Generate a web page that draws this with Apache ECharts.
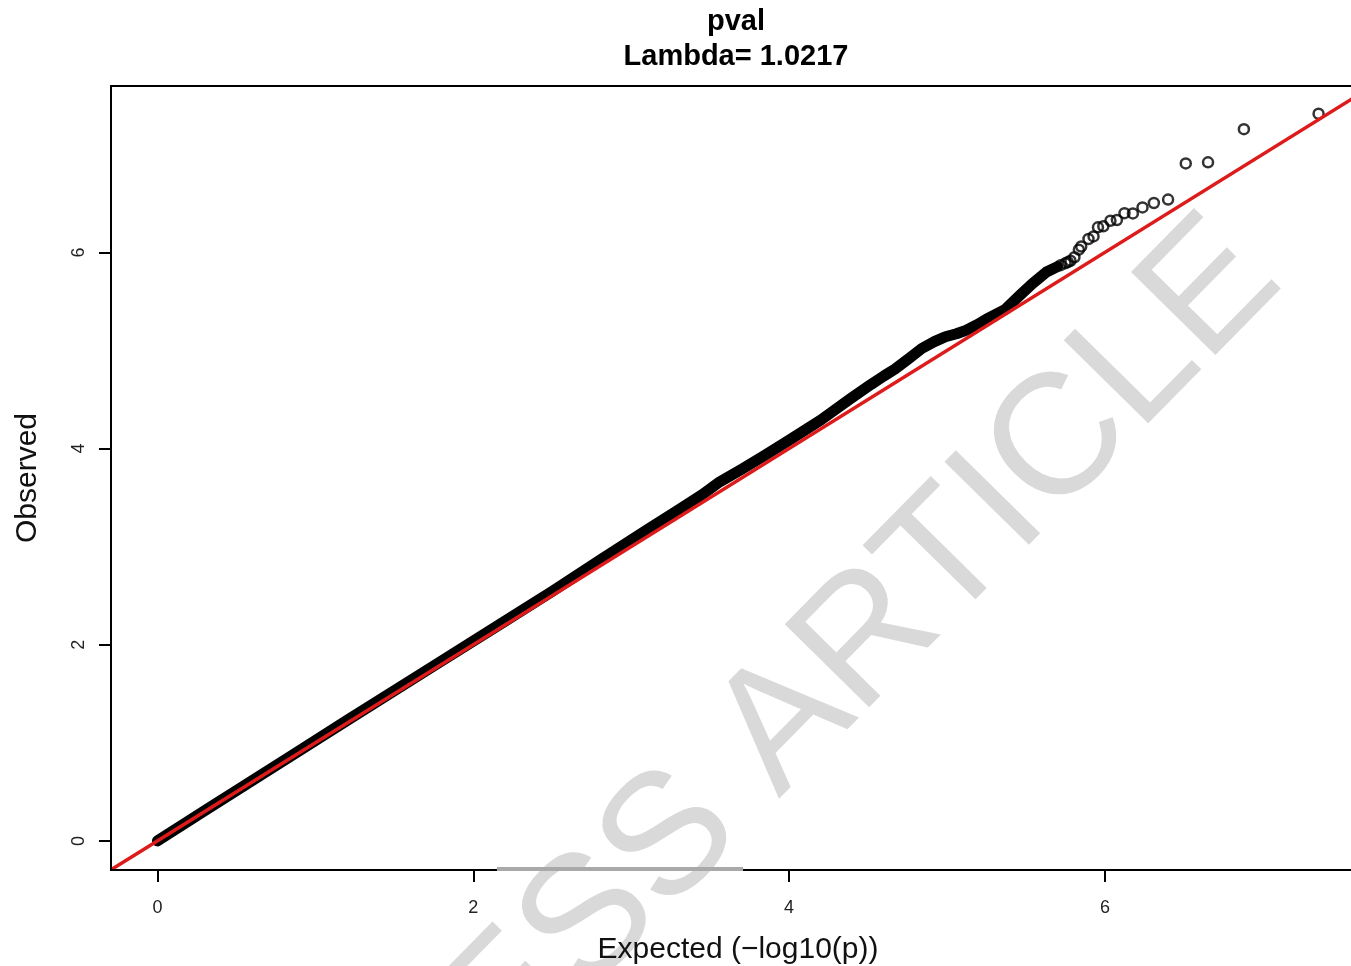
<!DOCTYPE html>
<html>
<head>
<meta charset="utf-8">
<title>QQ plot</title>
<script src="https://cdn.jsdelivr.net/npm/echarts@6/dist/echarts.min.js"></script>
<style>
  html, body { margin: 0; padding: 0; background: #fff; }
  #show_picture { width: 1351px; height: 966px; }
</style>
</head>
<body>
<div id="show_picture"></div>
<script>
// ticks on both axes
const xTicks = [0, 2, 4, 6];
const yTicks = [0, 2, 4, 6];

// dense part of the QQ cloud (read along the band centre)
const bandExpected = [0.00, 0.30, 0.60, 0.86, 1.20, 1.73, 2.20, 2.50, 2.81, 3.10, 3.30, 3.45, 3.56, 3.70, 3.85,
  4.00, 4.20, 4.39, 4.52, 4.60, 4.67, 4.76, 4.84, 4.92, 4.99, 5.06, 5.12, 5.20, 5.25, 5.37, 5.46, 5.54, 5.63, 5.70];
const bandObserved = [0.000, 0.310, 0.615, 0.880, 1.228, 1.765, 2.240, 2.545, 2.870, 3.170, 3.375, 3.530, 3.660, 3.790, 3.935,
  4.085, 4.290, 4.510, 4.655, 4.740, 4.810, 4.920, 5.020, 5.090, 5.140, 5.170, 5.205, 5.270, 5.320, 5.420, 5.560, 5.680, 5.800, 5.855];

// sparse tail, single circles
const tailExpected = [5.72, 5.75, 5.765, 5.782, 5.807, 5.835, 5.85, 5.896, 5.928, 5.956, 5.99, 6.035, 6.076,
  6.124, 6.177, 6.238, 6.31, 6.40, 6.512, 6.653, 6.88, 7.353];
const tailObserved = [5.87, 5.89, 5.90, 5.915, 5.95, 6.028, 6.06, 6.136, 6.163, 6.255, 6.266, 6.322, 6.33,
  6.40, 6.397, 6.458, 6.503, 6.538, 6.907, 6.918, 7.256, 7.413];

const xMin = -0.294, xMax = 7.647;
const yMin = -0.296, yMax = 7.696;

let show_picture = document.getElementById('show_picture');
let myChart = echarts.init(show_picture);

let band = bandExpected.map((v, i) => [v, bandObserved[i]]);
let tail = tailExpected.map((v, i) => [v, tailObserved[i]]);

const font = '"Liberation Sans", Arial, Helvetica, sans-serif';

let option = {
    backgroundColor: '#fff',
    animation: false,
    title: {
        text: 'pval\nLambda= 1.0217',
        left: 731,
        textAlign: 'center',
        top: -1,
        textStyle: {
            color: '#000',
            fontFamily: font,
            fontWeight: 'bold',
            fontSize: 29,
            lineHeight: 35
        }
    },
    grid: {
        left: 111, top: 86, width: 1254, height: 784,
        show: true,
        borderColor: '#000',
        borderWidth: 2,
        containLabel: false,
        outerBoundsMode: 'none'
    },
    xAxis: {
        type: 'value',
        z: 5,
        min: xMin, max: xMax,
        name: 'Expected (\u2212log10(p))',
        nameLocation: 'middle',
        nameGap: 65,
        nameTextStyle: { color: '#111', fontFamily: font, fontSize: 30, lineHeight: 30 },
        axisLine: { show: true, onZero: false, lineStyle: { color: '#000', width: 2 } },
        axisTick: { show: true, length: 12, customValues: xTicks, lineStyle: { color: '#000', width: 2 } },
        axisLabel: { customValues: xTicks, margin: 29, color: '#222', fontFamily: font, fontSize: 18 },
        splitLine: { show: false }
    },
    yAxis: {
        type: 'value',
        z: 5,
        min: yMin, max: yMax,
        name: 'Observed',
        nameLocation: 'middle',
        nameGap: 68,
        nameTextStyle: { color: '#111', fontFamily: font, fontSize: 30, lineHeight: 30 },
        axisLine: { show: true, onZero: false, lineStyle: { color: '#000', width: 2 } },
        axisTick: { show: true, length: 12, customValues: yTicks, lineStyle: { color: '#000', width: 2 } },
        axisLabel: { customValues: yTicks, rotate: 90, margin: 23, color: '#222', fontFamily: font, fontSize: 18 },
        splitLine: { show: false }
    },
    graphic: [
        {
            type: 'text',
            x: 1252, y: 250,
            rotation: 0.794,
            z: 1,
            silent: true,
            style: {
                text: 'ACCESS ARTICLE',
                font: '172px "Liberation Sans", Arial, sans-serif',
                fill: '#d9d9d9',
                align: 'right', verticalAlign: 'middle',
                textAlign: 'right', textVerticalAlign: 'middle'
            }
        },
        {
            type: 'line',
            z: 100,
            silent: true,
            shape: { x1: 497, y1: 869, x2: 743, y2: 869 },
            style: { stroke: '#a9a9a9', lineWidth: 4 }
        }
    ],
    series: [
        {
            type: 'line',
            data: band,
            symbol: 'none',
            lineStyle: { color: '#000', width: 11, cap: 'round', join: 'round' },
            z: 2
        },
        {
            type: 'scatter',
            data: tail,
            symbol: 'circle',
            symbolSize: 10,
            itemStyle: { color: 'rgba(255,255,255,0)', borderColor: '#000', borderWidth: 2.5 },
            z: 3
        },
        {
            type: 'line',
            data: [[xMin, xMin], [xMax, xMax]],
            symbol: 'none',
            lineStyle: { color: '#de1b1b', width: 3.5 },
            z: 4
        }
    ]
};

option && myChart.setOption(option);
</script>
</body>
</html>
